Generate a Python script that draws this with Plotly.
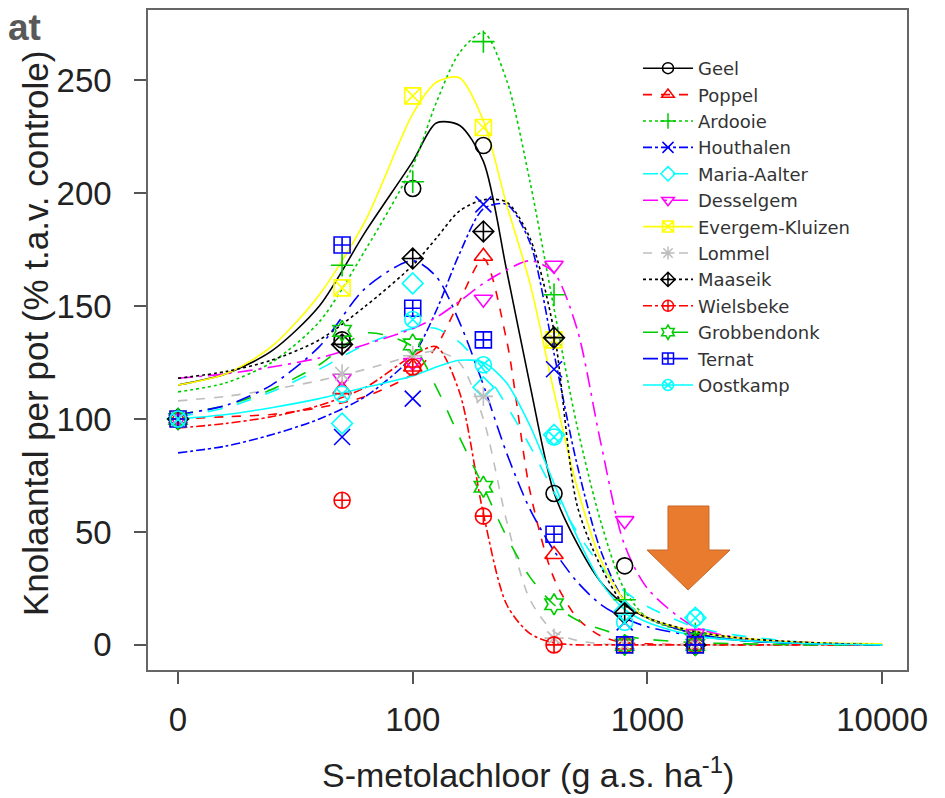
import plotly.graph_objects as go

# ---------------- data ----------------
series_names = ["Geel", "Poppel", "Ardooie", "Houthalen", "Maria-Aalter", "Desselgem",
                "Evergem-Kluizen", "Lommel", "Maaseik", "Wielsbeke", "Grobbendonk",
                "Ternat", "Oostkamp"]

doses = [0, 50, 100, 200, 400, 800, 1600]          # g a.s./ha (0 drawn at position 10)
zero_position = 10

geel = [100, 135, 202, 221, 67, 35, 1]
poppel = [100, 113, 123, 172, 40, 0, 0]
ardooie = [100, 168, 205, 267, 155, 20, 5]
houthalen = [100, 92, 109, 195, 122, 10, 2]
maria_aalter = [100, 98, 160, 114, 93, 15, 12]
desselgem = [100, 118, 125, 153, 168, 55, 5]
evergem = [100, 158, 243, 229, 135, 0, 0]
lommel = [100, 120, 128, 110, 3, 0, 0]
maaseik = [100, 133, 171, 183, 136, 14, 0]
wielsbeke = [100, 64, 123, 57, 0, 0, 0]
grobbendonk = [100, 139, 133, 70, 18, 0, 0]
ternat = [100, 177, 149, 135, 49, 0, 0]
oostkamp = [100, 111, 144, 124, 92, 10, 12]

# fitted curves at these doses
curve_doses = [10, 16, 25, 40, 63, 100, 126, 158, 200, 251, 316, 398, 501, 631, 794,
               1000, 1585, 2512, 5012, 10000]
geel_fit = [115, 120, 130, 150, 183, 214, 231, 230, 214, 166, 115, 68, 45, 28, 18, 12, 5, 2, 0.5, 0]
poppel_fit = [100, 101, 102, 105, 110, 120, 132, 152, 171, 135, 68, 30, 12, 4, 1, 0.5, 0, 0, 0, 0]
ardooie_fit = [112, 116, 125, 143, 175, 212, 240, 262, 271, 250, 205, 150, 97, 55, 25, 12, 5, 2, 0.5, 0]
houthalen_fit = [85, 88, 93, 100, 110, 128, 148, 173, 193, 195, 178, 130, 80, 42, 20, 12, 5, 2, 0.5, 0]
maria_aalter_fit = [101, 105, 112, 122, 133, 140, 140, 134, 122, 106, 88, 68, 50, 35, 24, 17, 8, 4, 1, 0.5]
desselgem_fit = [118, 120, 123, 127, 133, 140, 145, 152, 160, 166, 170, 165, 140, 90, 45, 25, 8, 3, 1, 0]
evergem_fit = [115, 120, 132, 155, 188, 235, 249, 251, 232, 195, 160, 113, 70, 38, 20, 12, 6, 3, 1, 0.5]
lommel_fit = [108, 110, 113, 117, 122, 128, 130, 125, 100, 55, 20, 6, 2, 0.5, 0, 0, 0, 0, 0, 0]
maaseik_fit = [118, 121, 126, 135, 150, 168, 180, 192, 197, 196, 180, 140, 62, 35, 18, 12, 6, 3, 1, 0]
wielsbeke_fit = [96, 98, 101, 106, 114, 128, 132, 112, 58, 18, 5, 1, 0, 0, 0, 0, 0, 0, 0, 0]
grobbendonk_fit = [102, 106, 113, 124, 138, 132, 114, 92, 70, 48, 30, 18, 11, 7, 4, 2.5, 1, 0.5, 0, 0]
ternat_fit = [102, 106, 115, 132, 158, 170, 163, 143, 115, 85, 60, 42, 28, 18, 12, 8, 4, 2, 0.5, 0]
oostkamp_fit = [100, 102, 105, 109, 114, 119, 123, 126, 125, 116, 97, 72, 48, 28, 16, 10, 4, 2, 0.5, 0]

points = [geel, poppel, ardooie, houthalen, maria_aalter, desselgem, evergem, lommel,
          maaseik, wielsbeke, grobbendonk, ternat, oostkamp]
fits = [geel_fit, poppel_fit, ardooie_fit, houthalen_fit, maria_aalter_fit, desselgem_fit,
        evergem_fit, lommel_fit, maaseik_fit, wielsbeke_fit, grobbendonk_fit, ternat_fit,
        oostkamp_fit]

x_ticks = [10, 100, 1000, 10000]
x_tick_labels = ["0", "100", "1000", "10000"]
y_ticks = [0, 50, 100, 150, 200, 250]

# ---------------- styles ----------------
colors = ["#000000", "#FF0000", "#00CD00", "#0000FF", "#00FFFF", "#FF00FF", "#FFFF00",
          "#BEBEBE", "#000000", "#FF0000", "#00CD00", "#0000FF", "#00FFFF"]
dashes = ["solid", "dash", "dot", "dashdot", "longdash", "longdashdot",
          "solid", "dash", "dot", "dashdot", "longdash", "longdashdot", "solid"]
symbols = ["circle-open", "triangle-up-open", "cross-thin-open", "x-thin-open", "diamond-open",
           "triangle-down-open", "square-x-open", "asterisk-open", "diamond-cross-open",
           "circle-cross-open", "hexagram-open", "square-cross-open", "circle-x-open"]

FONT = "Arial, Liberation Sans, sans-serif"
LEGEND_FONT = "DejaVu Sans, Arial, sans-serif"
fig = go.Figure()

x_pts = [d if d > 0 else zero_position for d in doses]

for i, name in enumerate(series_names):
    fig.add_trace(go.Scatter(
        x=curve_doses, y=fits[i], mode="lines", showlegend=False, hoverinfo="skip",
        line=dict(color=colors[i], dash=dashes[i], width=1.6, shape="spline", smoothing=0.8)))
for i, name in enumerate(series_names):
    fig.add_trace(go.Scatter(
        x=x_pts, y=points[i], mode="markers", showlegend=False, name=name,
        marker=dict(symbol=symbols[i], size=16, color=colors[i], line=dict(width=1.6, color=colors[i]))))
for i, name in enumerate(series_names):
    fig.add_trace(go.Scatter(
        x=[None], y=[None], mode="lines+markers", name=name, showlegend=True,
        line=dict(color=colors[i], dash=dashes[i], width=1.6),
        marker=dict(symbol=symbols[i], size=11, color=colors[i], line=dict(width=1.5, color=colors[i]))))

# page layout (the page body adds an 8 px offset)
OFF = 8
SCR_L, SCR_R, SCR_T, SCR_B = 148, 907, 10, 670      # plot frame in screen pixels
FW, FH = 945 - OFF, 798 - OFF
ML, MT = SCR_L - OFF, SCR_T - OFF
MR, MB = FW - (SCR_R - OFF), FH - (SCR_B - OFF)
pw, ph = SCR_R - SCR_L, SCR_B - SCR_T

def px(sx):
    return (sx - SCR_L) / pw

def py(sy):
    return (SCR_B - sy) / ph

# orange arrow (annotation shape)
arrow = [(668, 506), (709, 506), (709, 550), (730, 550), (688, 590), (647, 550), (668, 550)]
path = "M " + " L ".join(f"{px(a):.4f},{py(b):.4f}" for a, b in arrow) + " Z"
fig.add_shape(type="path", path=path, xref="paper", yref="paper",
              fillcolor="#E97B2E", line=dict(color="#C9662A", width=1))

fig.add_annotation(text="<b>at</b>", x=px(OFF - 2), y=py(27), xref="paper", yref="paper",
                   xanchor="left", yanchor="middle", showarrow=False,
                   font=dict(family=FONT, size=37, color="#595959"))

# axis titles
fig.add_annotation(text="S-metolachloor (g a.s. ha<sup>-1</sup>)", x=px(528), y=py(772),
                   xref="paper", yref="paper", xanchor="center", yanchor="middle",
                   showarrow=False, font=dict(family=FONT, size=34, color="#222222"))
fig.add_annotation(text="Knolaantal per pot (% t.a.v. controle)", x=px(35), y=py(333),
                   xref="paper", yref="paper", xanchor="center", yanchor="middle",
                   textangle=-90, showarrow=False,
                   font=dict(family=FONT, size=35, color="#222222"))

axis_common = dict(showline=True, linecolor="#666666", linewidth=1.5, mirror=True,
                   ticks="outside", ticklen=12, tickwidth=1.5, tickcolor="#555555",
                   showgrid=False, zeroline=False, automargin=False,
                   tickfont=dict(family=FONT, size=33, color="#222222"))

fig.update_layout(
    width=FW, height=FH,
    margin=dict(l=ML, r=MR, t=MT, b=MB),
    paper_bgcolor="white", plot_bgcolor="white",
    xaxis=dict(type="log", range=[0.872, 4.106], tickvals=x_ticks, ticktext=x_tick_labels,
               ticklabelstandoff=8, **axis_common),
    yaxis=dict(range=[-11.1, 281], tickvals=y_ticks, ticklabelstandoff=16, **axis_common),
    legend=dict(x=px(638), y=py(50), xanchor="left", yanchor="top",
                bgcolor="rgba(0,0,0,0)", borderwidth=0, itemwidth=50,
                font=dict(family=LEGEND_FONT, size=18, color="#333333"), tracegroupgap=0),
    showlegend=True,
)

fig.write_html("out.html")
